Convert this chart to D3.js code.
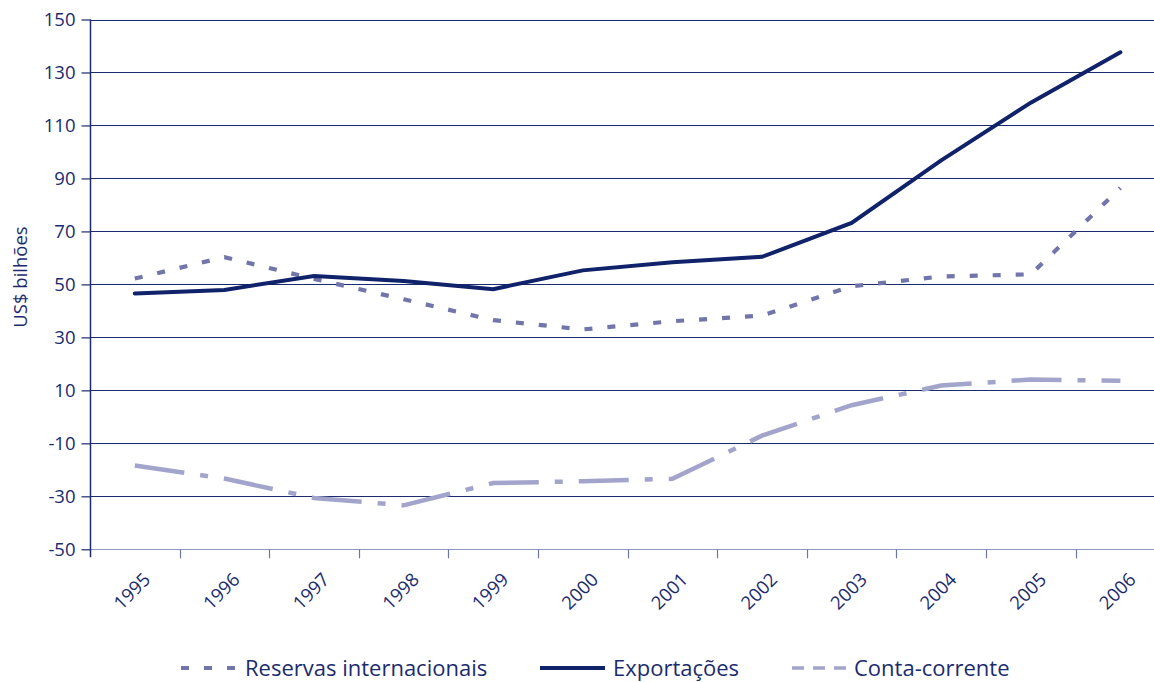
<html>
  <head>
    <meta content="text/html; charset=utf-8" http-equiv="Content-Type">
    <style>
      body { margin: 0; background: #fff; }
      svg { display: block; font-family: 'Open Sans', sans-serif; }
      .axis text { fill: #1b2b6e; font-size: 18.5px; font-family: 'Open Sans', sans-serif; }
    </style>
  </head>
  <body>
    <svg id="svg"></svg>

<script src="https://d3js.org/d3.v7.min.js"></script>
<script>

// chart values
const years = ["1995", "1996", "1997", "1998", "1999", "2000", "2001", "2002", "2003", "2004", "2005", "2006"];
const reservas = [52.2, 60.3, 52.1, 44.4, 36.5, 33.0, 36.1, 38.2, 49.3, 53.0, 53.8, 86.4];
const exportacoes = [46.6, 47.9, 53.2, 51.3, 48.2, 55.3, 58.4, 60.4, 73.2, 96.8, 118.6, 137.6];
const contaCorrente = [-18.4, -23.3, -30.6, -33.4, -25.0, -24.3, -23.4, -7.1, 4.4, 11.8, 14.1, 13.6];
const yTicks = [150, 130, 110, 90, 70, 50, 30, 10, -10, -30, -50];
const seriesNames = ["Reservas internacionais", "Exportações", "Conta-corrente"];

const navy = "#1b2b6e";
const width = 1154;
const height = 682;
const plotLeft = 90;
const plotTop = 19.5;
const plotBottom = 549.3;
const bandW = 89.6;

const svg = d3.select("#svg")
    .attr("width", width)
    .attr("height", height);

const xScale = d3.scaleBand()
    .domain(years)
    .range([plotLeft, plotLeft + bandW * years.length]);

const yScale = d3.scaleLinear()
    .domain([-50, 150])
    .range([plotBottom, plotTop]);

// gridlines
svg.append("g")
    .selectAll("line")
    .data(yTicks)
    .join("line")
      .attr("x1", plotLeft)
      .attr("x2", width)
      .attr("y1", d => Math.round(yScale(d)) + 0.5)
      .attr("y2", d => Math.round(yScale(d)) + 0.5)
      .attr("stroke", d => d === -50 ? "#8f97bb" : navy)
      .attr("stroke-width", 1.2);

// y axis
const yAxis = svg.append("g")
    .attr("class", "axis")
    .attr("transform", `translate(${plotLeft + 0.5}, 0)`)
    .call(d3.axisLeft(yScale).tickValues(yTicks).tickSize(9).tickPadding(6).tickFormat(d => String(d)));
yAxis.select(".domain").remove();
yAxis.selectAll("line").attr("stroke", navy).attr("stroke-width", 1.2);
yAxis.append("line")
    .attr("y1", plotTop)
    .attr("y2", plotBottom + 8)
    .attr("stroke", navy)
    .attr("stroke-width", 1.5);

// x axis (ticks on band boundaries)
const xAxis = svg.append("g")
    .attr("class", "axis")
    .attr("transform", `translate(0, ${plotBottom})`);
xAxis.selectAll("line")
    .data(years.slice(1))
    .join("line")
      .attr("x1", d => Math.round(xScale(d)) + 0.5)
      .attr("x2", d => Math.round(xScale(d)) + 0.5)
      .attr("y1", 0)
      .attr("y2", 9)
      .attr("stroke", "#6d78a6")
      .attr("stroke-width", 1.2);
xAxis.selectAll("text")
    .data(years)
    .join("text")
      .attr("transform", d => `translate(${xScale(d) + xScale.bandwidth() / 2 + 12}, 27) rotate(-45)`)
      .attr("text-anchor", "end")
      .attr("dy", "0.35em")
      .text(d => d);

// y title
svg.append("text")
    .attr("transform", "translate(27, 277) rotate(-90)")
    .attr("text-anchor", "middle")
    .attr("fill", navy)
    .attr("font-size", 18.5)
    .text("US$ bilhões");

const line = d3.line()
    .x((d, i) => xScale(years[i]) + xScale.bandwidth() / 2)
    .y(d => yScale(d));

svg.append("path")
    .datum(contaCorrente)
    .attr("fill", "none")
    .attr("stroke", "#a2a4cb")
    .attr("stroke-width", 4.5)
    .attr("stroke-dasharray", "50,16,8,16")
    .attr("d", line);

svg.append("path")
    .datum(reservas)
    .attr("fill", "none")
    .attr("stroke", "#7275a9")
    .attr("stroke-width", 4.2)
    .attr("stroke-dasharray", "8,15")
    .attr("d", line);

svg.append("path")
    .datum(exportacoes)
    .attr("fill", "none")
    .attr("stroke", "#10226a")
    .attr("stroke-width", 4)
    .attr("stroke-linecap", "round")
    .attr("d", line);

// legend
const legendY = 668;
const legendItems = [
  { name: seriesNames[0], x: 181, w: 56, color: "#7275a9", dash: "8,15", sw: 4.2 },
  { name: seriesNames[1], x: 540, w: 65, color: "#10226a", dash: null, sw: 4 },
  { name: seriesNames[2], x: 792, w: 54, color: "#a2a4cb", dash: "12,9", sw: 3.5 }
];
const legend = svg.append("g");
legendItems.forEach(function(it) {
  legend.append("line")
      .attr("x1", it.x)
      .attr("x2", it.x + it.w)
      .attr("y1", legendY)
      .attr("y2", legendY)
      .attr("stroke", it.color)
      .attr("stroke-width", it.sw)
      .attr("stroke-dasharray", it.dash);
  legend.append("text")
      .attr("x", it.x + it.w + 8)
      .attr("y", legendY)
      .attr("dy", "0.36em")
      .attr("fill", navy)
      .attr("font-size", 22)
      .text(it.name);
});

</script>
</body>
</html>
